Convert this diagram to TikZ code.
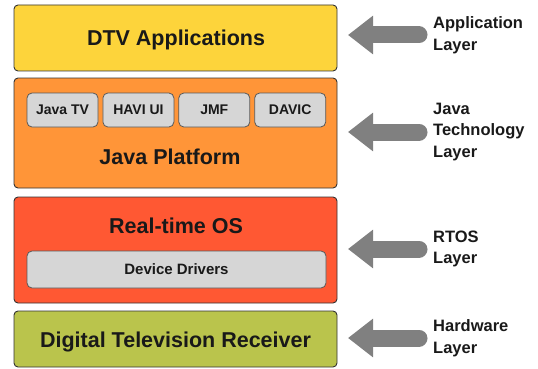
\documentclass[tikz,border=0pt]{standalone}
\usepackage{fontspec}
\setmainfont{Liberation Sans}
\usetikzlibrary{arrows.meta}

\definecolor{appyellow}{HTML}{FDD43B}
\definecolor{javaorange}{HTML}{FF9538}
\definecolor{rtosred}{HTML}{FF5833}
\definecolor{hwgreen}{HTML}{BAC44C}
\definecolor{modgray}{HTML}{D6D6D6}
\definecolor{arrowgray}{HTML}{808080}

\tikzset{
  layerbox/.style={draw=black!80, line width=0.9pt, rounded corners=4pt,
    minimum width=323pt, inner sep=0pt},
  layertext/.style={font=\bfseries\fontsize{21.5}{24}\selectfont, text=black!90},
  module/.style={draw=black!65, fill=modgray, line width=0.8pt, rounded corners=5pt,
    minimum width=71pt, minimum height=34pt, inner sep=0pt,
    font=\bfseries\fontsize{14}{16}\selectfont, text=black!90},
  sidelabel/.style={anchor=west, align=left, inner sep=0pt,
    font=\bfseries\fontsize{16.5}{21.5}\selectfont, text=black!90},
  bigarrow/.style={draw=arrowgray, line width=17pt, line cap=round,
    -{Triangle[width=37pt,length=25pt]}}
}

\begin{document}
\begin{tikzpicture}[x=1pt, y=-1pt]
    \useasboundingbox (0,0) rectangle (538,369);
    % the four layers
    \node [layerbox, fill=appyellow, minimum height=66pt] (app) at (175.5,38) {};
    \node [layerbox, fill=javaorange, minimum height=110pt] (java) at (175.5,133) {};
    \node [layerbox, fill=rtosred, minimum height=106pt] (rtos) at (175.5,250) {};
    \node [layerbox, fill=hwgreen, minimum height=56pt] (hw) at (175.5,339) {};
    \node [layertext] (apptxt) at (176,40) {DTV Applications};
    \node [layertext] (hwtxt) at (175.5,341.5) {Digital Television Receiver};
    % java modules
    \foreach \name/\lbl [count=\i] in {jtv/Java TV, havi/HAVI UI, jmf/JMF, davic/DAVIC}
        \node [module] (\name) at ({62.5+75.9*(\i-1)},110) {\lbl};
    \node [layertext] (javatxt) at (170,157) {Java Platform};
    % rtos
    \node [layertext] (rtostxt) at (176,226) {Real-time OS};
    \node [module, minimum width=299pt, minimum height=37pt, font=\bfseries\fontsize{15}{17}\selectfont] (drv) at (176.5,269.5) {Device Drivers};
    % layer names with arrows
    \foreach \name/\y/\lbl in {lapp/35/{Application\\Layer}, ljava/132/{Java\\Technology\\Layer},
                              lrtos/249/{RTOS\\Layer}, lhw/338/{Hardware\\Layer}}
    {
        \node [sidelabel] (\name) at (433,\y) {\lbl};
        \coordinate (\name s) at (419,\y);
        \coordinate (\name e) at (348,\y);
        \draw [bigarrow] (\name s) -- (\name e);
    }
\end{tikzpicture}
\end{document}
